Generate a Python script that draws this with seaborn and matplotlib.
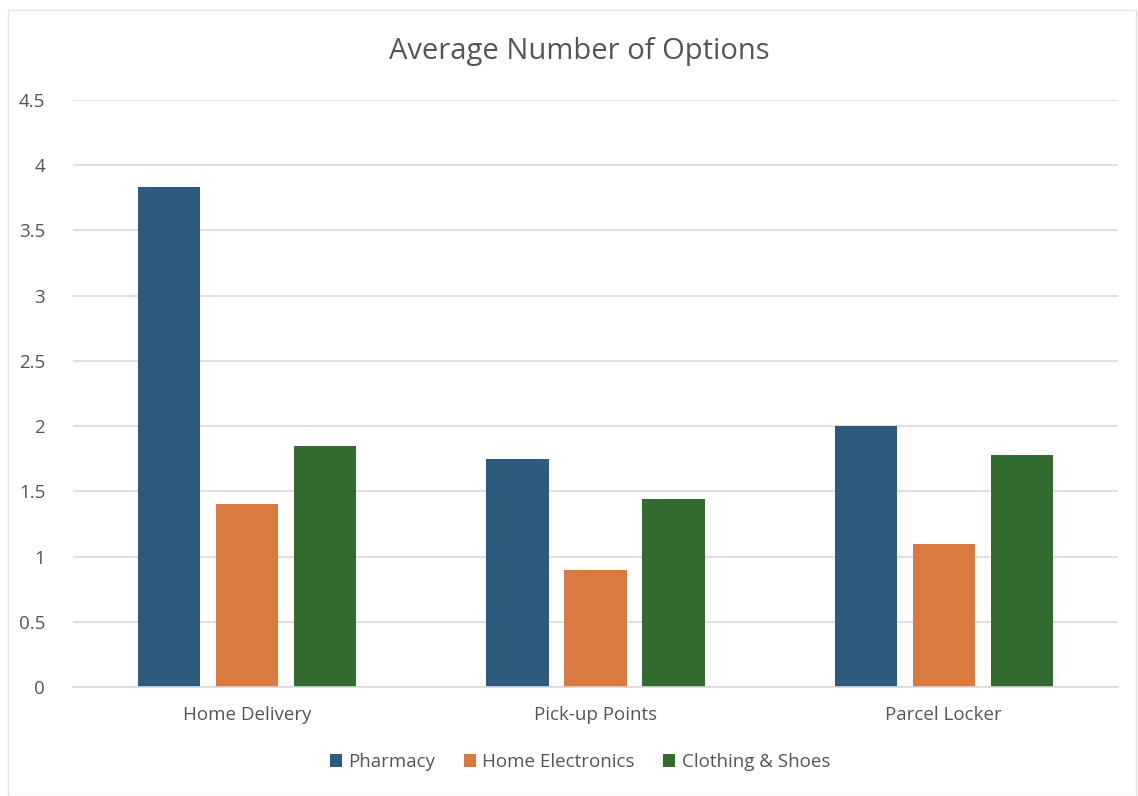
import matplotlib
matplotlib.use("Agg")
import matplotlib.pyplot as plt
from matplotlib.patches import Rectangle
import seaborn as sns
import pandas as pd

categories = ["Home Delivery", "Pick-up Points", "Parcel Locker"]
series = ["Pharmacy", "Home Electronics", "Clothing & Shoes"]
pharmacy = [3.83, 1.75, 2.0]
home_electronics = [1.40, 0.90, 1.10]
clothing_shoes = [1.85, 1.44, 1.78]
y_ticks = [0, 0.5, 1, 1.5, 2, 2.5, 3, 3.5, 4, 4.5]
y_tick_labels = ["0", "0.5", "1", "1.5", "2", "2.5", "3", "3.5", "4", "4.5"]

colors = ["#2D5B7D", "#D97A41", "#346B2F"]
text_color = "#555555"
grid_color = "#D9D9D9"

rows = []
for name, vals in zip(series, [pharmacy, home_electronics, clothing_shoes]):
    for cat, v in zip(categories, vals):
        rows.append({"Category": cat, "Series": name, "Value": v})
df = pd.DataFrame(rows)

sns.set_theme(style="white")
plt.rcParams["font.family"] = ["Open Sans", "DejaVu Sans"]

fig = plt.figure(figsize=(11.38, 7.96), dpi=100)
ax = fig.add_axes([73 / 1138, 109 / 796, 1045 / 1138, 587 / 796])

sns.barplot(data=df, x="Category", y="Value", hue="Series", order=categories,
            hue_order=series, palette=colors, width=0.672, gap=0.2,
            saturation=1, linewidth=0, ax=ax, errorbar=None)

ax.set_ylim(0, 4.5)
ax.set_xlim(-0.5, 2.5)
ax.set_yticks(y_ticks)
ax.set_yticklabels(y_tick_labels)
ax.yaxis.grid(True, color=grid_color, linewidth=1.2)
ax.set_axisbelow(True)
for s in ["top", "right", "left"]:
    ax.spines[s].set_visible(False)
ax.spines["bottom"].set_color(grid_color)
ax.spines["bottom"].set_linewidth(1.2)
ax.tick_params(axis="both", length=0, labelsize=13.5, colors=text_color)
ax.tick_params(axis="y", pad=20)
ax.tick_params(axis="x", pad=14)
ax.set_xlabel("")
ax.set_ylabel("")

fig.text(579 / 1138, 1 - 52 / 796, "Average Number of Options", ha="center",
         va="center", fontsize=21, color=text_color)

handles, labels = ax.get_legend_handles_labels()
ax.legend_.remove()
fig.legend(handles, labels, loc="center", bbox_to_anchor=(580 / 1138, 1 - 762 / 796),
           ncol=3, frameon=False, fontsize=13.5, handlelength=0.65,
           handleheight=0.65, handletextpad=0.35, columnspacing=1.5,
           labelcolor=text_color)

fig.patches.append(Rectangle((8 / 1138, 0), 1128 / 1138, 1 - 10 / 796,
                             transform=fig.transFigure, fill=False,
                             edgecolor="#E3E3E3", linewidth=1))

fig.savefig("out.png", dpi=100, facecolor="white")
